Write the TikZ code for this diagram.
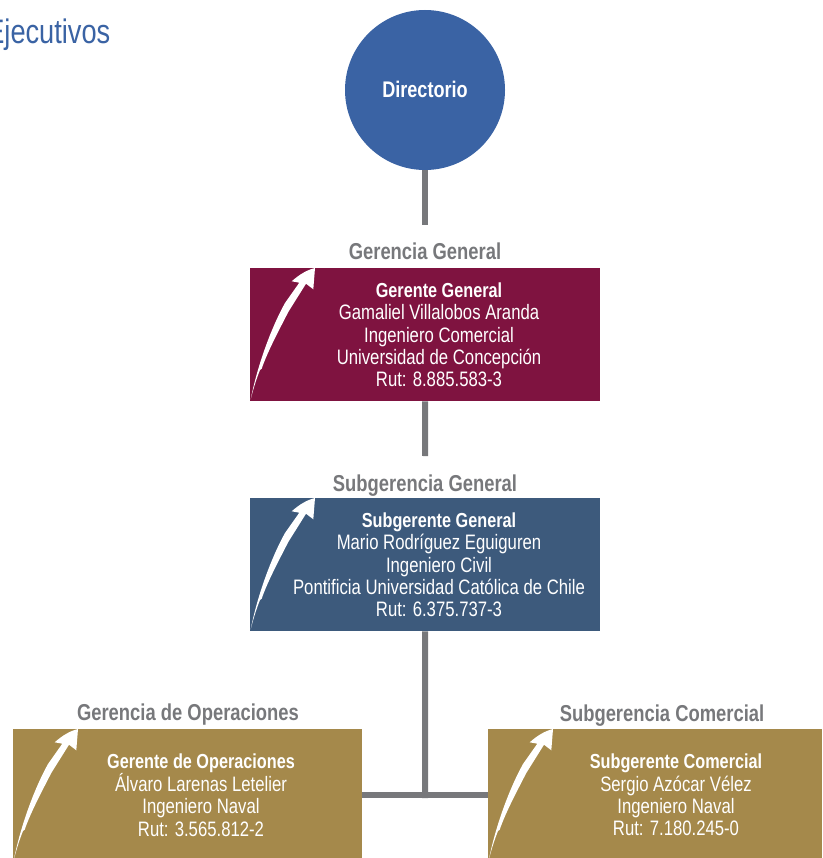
\documentclass[tikz,border=0pt]{standalone}
\usepackage{fontspec}
\setmainfont{Liberation Sans}[FakeStretch=0.8]
\usetikzlibrary{positioning}
\definecolor{circleblue}{RGB}{58, 99, 164}
\definecolor{titleblue}{RGB}{58, 99, 164}
\definecolor{winered}{RGB}{127, 19, 64}
\definecolor{steelblue}{RGB}{61, 90, 124}
\definecolor{goldbrown}{RGB}{165, 137, 75}
\definecolor{linegray}{RGB}{119, 120, 123}
\newcommand{\headline}[1]{{\fontsize{20.3}{22.3}\selectfont\bfseries #1}}
\begin{document}
\begin{tikzpicture}[
    x=1pt, y=-1pt,
    office/.style={rectangle, fill=#1, inner sep=0pt, anchor=north west},
    person/.style={align=center, text=white, inner sep=0pt, font=\fontsize{20.9}{22.3}\selectfont},
    area/.style={text=linegray, inner sep=0pt, anchor=base, font=\fontsize{23}{24}\selectfont\bfseries},
    link/.style={line width=6pt, linegray},
    risearrow/.pic={
        \fill[white] (0.7,131.3) .. controls (6.7,100.7) and (20,62) .. (35,35) -- (49.3,14.7) -- (41.7,13.3) .. controls (50,6) and (57,2) .. (65,0) -- (63.3,21.3) -- (56,15.7) -- (38.3,44) .. controls (27,66) and (17,85) .. (11.7,100.7) -- (10,102) .. controls (6,112) and (3,122) .. (0.7,131.3) -- cycle;
    }
]
    \useasboundingbox (0,0) rectangle (822,858);
    \clip (0,0) rectangle (822,858);

    \node[text=titleblue, inner sep=0pt, anchor=base east, font=\fontsize{34}{36}\selectfont] (title) at (110.5,43.5) {Ejecutivos};

    \node[circle, fill=circleblue, minimum size=160pt, inner sep=0pt, text=white, font=\fontsize{22.6}{24}\selectfont\bfseries] (dir) at (425,90) {\raisebox{2pt}{Directorio}};

    \node[office=winered, minimum width=350pt, minimum height=133pt] (gg) at (250,268) {};
    \node[office=steelblue, minimum width=350pt, minimum height=133pt] (sg) at (250,498) {};
    \node[office=goldbrown, minimum width=349pt, minimum height=129pt] (go) at (13,729) {};
    \node[office=goldbrown, minimum width=334pt, minimum height=129pt] (sc) at (488,729) {};

    \node[area] (ggarea) at (425,260) {Gerencia General};
    \node[area] (sgarea) at (425,491) {Subgerencia General};
    \node[area] (goarea) at (188,720) {Gerencia de Operaciones};
    \node[area] (scarea) at (662,721) {Subgerencia Comercial};

    \node[person] (ggtext) at (439,335) {\headline{Gerente General}\\Gamaliel Villalobos Aranda\\Ingeniero Comercial\\Universidad de Concepción\\Rut: 8.885.583-3};
    \node[person] (sgtext) at (439,565) {\headline{Subgerente General}\\Mario Rodríguez Eguiguren\\Ingeniero Civil\\Pontificia Universidad Católica de Chile\\Rut: 6.375.737-3};
    \node[person] (gotext) at (201,795) {\headline{Gerente de Operaciones}\\Álvaro Larenas Letelier\\Ingeniero Naval\\Rut: 3.565.812-2};
    \node[person] (sctext) at (676,795) {\headline{Subgerente Comercial}\\Sergio Azócar Vélez\\Ingeniero Naval\\Rut: 7.180.245-0};

    \pic at (gg.north west) {risearrow};
    \pic at (sg.north west) {risearrow};
    \pic at (go.north west) {risearrow};
    \pic at (sc.north west) {risearrow};

    \coordinate (dirend) at (425,225);
    \coordinate (ggend) at (425,456);
    \coordinate (split) at (425,798);
    \coordinate (splitleft) at (362,795);
    \coordinate (splitright) at (488,795);

    \draw[link] (dir) -- (dirend);
    \draw[link] (gg) -- (ggend);
    \draw[link] (sg) -- (split);
    \draw[link] (splitleft) -- (splitright);
\end{tikzpicture}
\end{document}
